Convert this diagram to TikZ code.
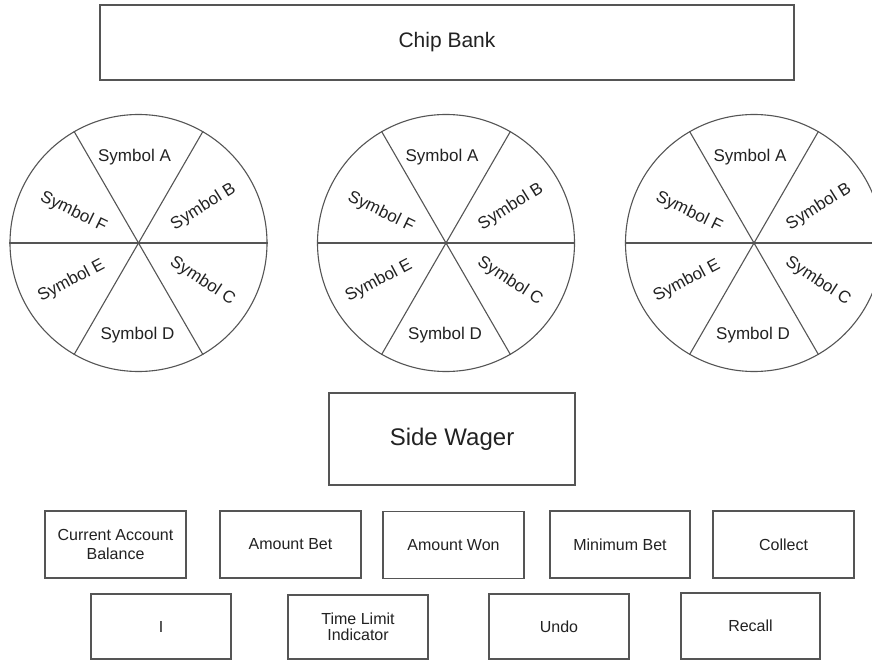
\documentclass[tikz,border=0pt]{standalone}
\usepackage{fontspec}
\setmainfont{Liberation Sans}
\definecolor{edge}{HTML}{555555}
\definecolor{ink}{HTML}{222222}
\begin{document}
\begin{tikzpicture}[x=1pt,y=-1pt,
  box/.style={draw=edge,line width=1.4pt,rectangle,inner sep=0pt,text=ink,align=center,font=\fontsize{16}{17}\selectfont},
  wheel/.style={draw=edge,line width=1.1pt,circle,minimum size=257pt,inner sep=0pt},
  spoke/.style={draw=edge,line width=1.1pt},
  sym/.style={text=ink,inner sep=0pt,font=\fontsize{17}{18}\selectfont}]
\useasboundingbox (0,0) rectangle (872,660);
\clip (0,0) rectangle (872,660);
\fill[white] (0,0) rectangle (872,660);

\node[box,minimum width=694pt,minimum height=75pt,font=\fontsize{21}{22}\selectfont] (chip) at (447,42.5) {Chip Bank};

\foreach \n/\cx in {w1/138.5,w2/446,w3/754}{
  \node[wheel] (\n) at (\cx,243) {};
  \draw[spoke] (\n.west) -- (\n.east);
  \draw[spoke] (\n.60) -- (\n.240);
  \draw[spoke] (\n.120) -- (\n.300);
  \node[sym] at ([shift={(-4,-86)}]\n.center) {Symbol A};
  \node[sym,rotate=32] at ([shift={(65,-36)}]\n.center) {Symbol B};
  \node[sym,rotate=-33] at ([shift={(64,38)}]\n.center) {Symbol C};
  \node[sym] at ([shift={(-1,92)}]\n.center) {Symbol D};
  \node[sym,rotate=28] at ([shift={(-67,38)}]\n.center) {Symbol E};
  \node[sym,rotate=-26] at ([shift={(-65,-31)}]\n.center) {Symbol F};
}

\node[box,minimum width=246pt,minimum height=92pt,font=\fontsize{24}{26}\selectfont] (side) at (452,439) {Side Wager};

\node[box,minimum width=141pt,minimum height=67pt,font=\fontsize{16}{19}\selectfont] (bal) at (115.5,544.5) {Current Account\\Balance};
\node[box,minimum width=141pt,minimum height=67pt] (bet) at (290.5,544.5) {Amount Bet};
\node[box,minimum width=141pt,minimum height=67pt] (won) at (453.5,545) {Amount Won};
\node[box,minimum width=140pt,minimum height=67pt] (min) at (620,544.5) {Minimum Bet};
\node[box,minimum width=141pt,minimum height=67pt] (col) at (783.5,544.5) {Collect};

\node[box,minimum width=140pt,minimum height=65pt] (i) at (161,626.5) {I};
\node[box,minimum width=140pt,minimum height=64pt] (time) at (358,627) {Time Limit\\[-1pt]Indicator};
\node[box,minimum width=140pt,minimum height=65pt] (undo) at (559,626.5) {Undo};
\node[box,minimum width=139pt,minimum height=66pt] (rec) at (750.5,626) {Recall};
\end{tikzpicture}
\end{document}
